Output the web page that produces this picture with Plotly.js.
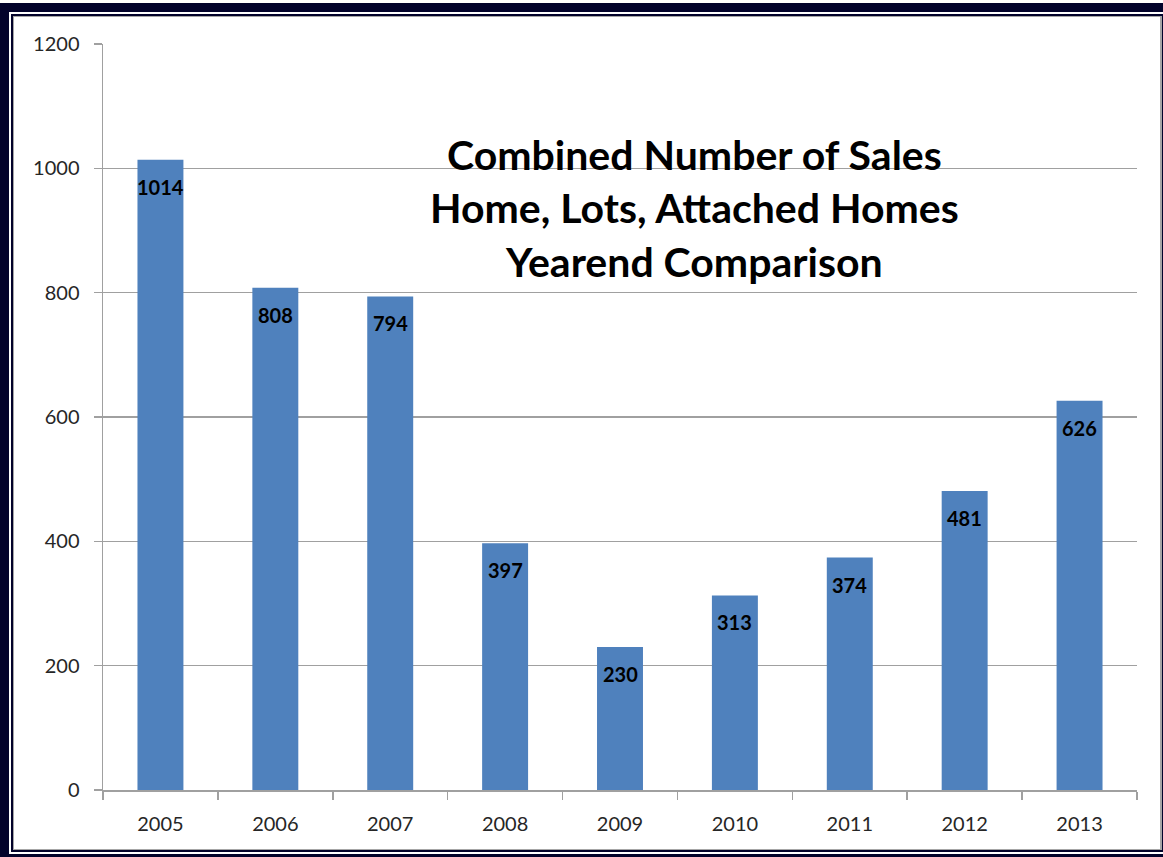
<!DOCTYPE html>
<html>
<head>
<meta charset="utf-8">
<script src="https://cdn.plot.ly/plotly-3.0.1.min.js"></script>
<style>
  html, body { margin: 0; padding: 0; background: #ffffff; }
  #wrap { position: relative; width: 1163px; height: 857px; overflow: hidden; }
  #chart { position: absolute; left: 0; top: 0; width: 1163px; height: 857px; }
  .fr { position: absolute; box-sizing: border-box; pointer-events: none; }
</style>
</head>
<body>
<div id="wrap">
  <div id="chart"></div>
  <div class="fr" style="left:0;top:3px;width:1163px;height:854px;border-top:9px solid #03032b;border-left:9px solid #03032b;border-bottom:3px solid #03032b;"></div>
  <div class="fr" style="left:11px;top:14px;width:1152px;height:838px;border:2px solid #03032b;border-right:1px solid #03032b;"></div>
  <div class="fr" style="left:13px;top:16px;width:1149px;height:834px;border:1px solid #a6a6a6;border-right:2px solid #a6a6a6;"></div>
</div>
<script>
var years = ["2005", "2006", "2007", "2008", "2009", "2010", "2011", "2012", "2013"];
var sales = [1014, 808, 794, 397, 230, 313, 374, 481, 626];
var yTicks = [0, 200, 400, 600, 800, 1000, 1200];
var titleLines = ["Combined Number of Sales", "Home, Lots, Attached Homes", "Yearend Comparison"];

var trace = {
  type: "bar",
  x: years,
  y: sales,
  marker: { color: "#4f81bd" },
  hoverinfo: "x+y"
};

var labels = years.map(function (yr, i) {
  return {
    x: i, y: sales[i], xref: "x", yref: "y",
    text: String(sales[i]), showarrow: false,
    yanchor: "middle", yshift: -27,
    font: { family: "Lato, 'Open Sans', sans-serif", size: 20, color: "#000000", weight: "bold" }
  };
});

labels.push({
  xref: "paper", yref: "paper",
  x: 0.5725, y: 0.78, xanchor: "center", yanchor: "middle",
  showarrow: false, align: "center",
  text: "<b>" + titleLines.join("<br>") + "</b>",
  font: { family: "Lato, 'Open Sans', sans-serif", size: 41, color: "#000000" }
});

var layout = {
  width: 1163, height: 857,
  margin: { l: 103, r: 26, t: 44, b: 67 },
  paper_bgcolor: "#ffffff", plot_bgcolor: "#ffffff",
  bargap: 0.6,
  showlegend: false,
  xaxis: {
    type: "category",
    range: [-0.5, years.length - 0.5],
    autorange: false,
    showline: true, linecolor: "#a0a0a0", linewidth: 1.5,
    ticks: "outside", ticklen: 8, tickcolor: "#a0a0a0", tickwidth: 1.5,
    tickson: "boundaries",
    showgrid: false,
    tickfont: { family: "Lato, 'Open Sans', sans-serif", size: 20, color: "#262626" },
    ticklabelstandoff: 15
  },
  yaxis: {
    range: [0, 1200],
    autorange: false,
    tickvals: yTicks,
    ticktext: yTicks.map(String),
    showline: true, linecolor: "#a0a0a0", linewidth: 1.5,
    ticks: "outside", ticklen: 8, tickcolor: "#a0a0a0", tickwidth: 1.5,
    showgrid: true, gridcolor: "#a0a0a0", gridwidth: 1.5,
    zeroline: false,
    tickfont: { family: "Lato, 'Open Sans', sans-serif", size: 20, color: "#262626" },
    ticklabelstandoff: 10
  },
  annotations: labels
};

Plotly.newPlot("chart", [trace], layout, { displayModeBar: false, staticPlot: true });
</script>
</body>
</html>
